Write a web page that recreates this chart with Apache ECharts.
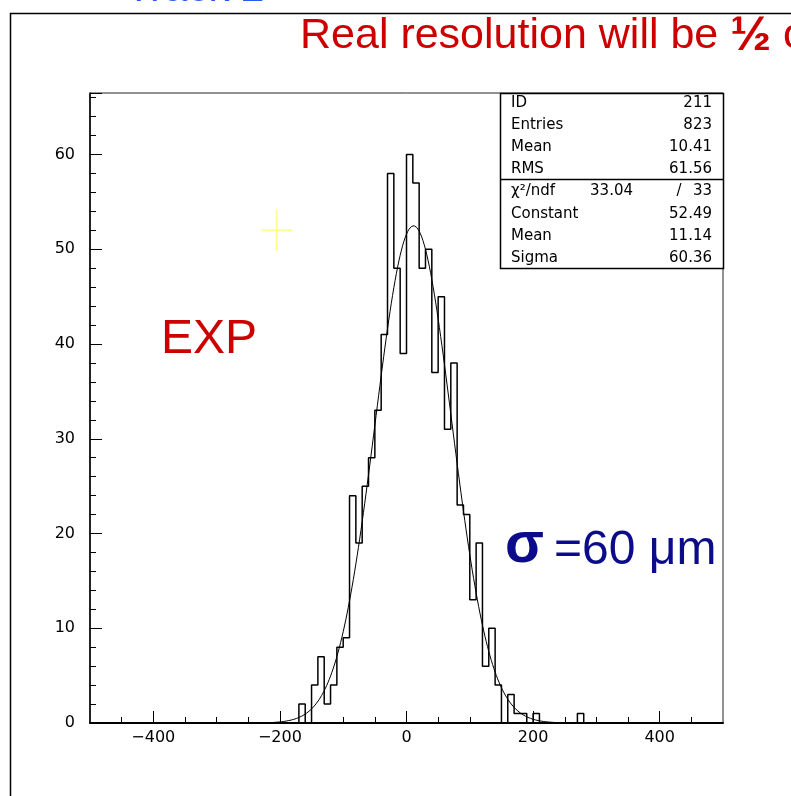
<!DOCTYPE html>
<html>
<head>
<meta charset="utf-8">
<title>Track 2 residuals</title>
<script src="https://cdn.jsdelivr.net/npm/echarts@6/dist/echarts.min.js"></script>
<style>
  html, body { margin: 0; padding: 0; background: #fff; }
  #c { width: 791px; height: 796px; }
</style>
</head>
<body>
<div id="c"></div>
<script>
// Histogram ID 211: residual distribution, 10-unit bins
const binLow = -180;
const binWidth = 10;
const counts = [
  0, 2, 0, 4, 7, 2, 4, 8, 9, 24,
  19, 25, 28, 33, 41, 58, 48, 39, 60, 57,
  48, 50, 37, 45, 31, 38, 23, 22, 13, 19,
  6, 10, 4, 0, 3, 1, 1, 0, 1, 0,
  0, 0, 0, 0, 0, 1, 0
];
const xRange = [-500, 500];
const yMax = 66.5;
const xTickValues = [-400, -200, 0, 200, 400];

// Gaussian fit result
const fitConstant = 52.49;
const fitMean = 11.14;
const fitSigma = 60.36;
const fitRange = [-210, 240];
const chi2 = '33.04';
const ndf = '33';

// Statistics box rows
const statLabels = ['ID', 'Entries', 'Mean', 'RMS'];
const statValues = ['211', '823', '10.41', '61.56'];
const fitLabels = ['Constant', 'Mean', 'Sigma'];
const fitValues = ['52.49', '11.14', '60.36'];

// Cursor cross left on the pad
const crossPoint = [[-205, 52]];

// Step outline points at bin left edges
const histPoints = [[xRange[0], 0]];
counts.forEach((c, i) => histPoints.push([binLow + i * binWidth, c]));
histPoints.push([binLow + counts.length * binWidth, 0]);
histPoints.push([xRange[1], 0]);

// Fitted Gaussian curve
const fitPoints = [];
for (let x = fitRange[0]; x <= fitRange[1]; x += 2) {
  const z = (x - fitMean) / fitSigma;
  fitPoints.push([x, fitConstant * Math.exp(-0.5 * z * z)]);
}

const labelFont = 'DejaVu Sans';
const boxFont = '15px "DejaVu Sans"';
const fmtNum = v => String(v).replace('-', '\u2212');

// Stats box geometry
const boxX = 500, boxY = 93, boxW = 223, boxH = 175, divY = 179;
const rowsTop = [103, 125, 147, 169];
const rowsBottom = [214, 236, 258];
const boxLeft = boxX + 11, boxRight = boxX + boxW - 11;

const graphics = [
  { type: 'polyline', z: 100, shape: { points: [[10.5, 796], [10.5, 13.5], [791, 13.5]] },
    style: { stroke: '#000', lineWidth: 1.5, fill: null } },
  { type: 'text', z: 100, x: 126, y: -11,
    style: { text: 'Track 2', font: '42px "Liberation Sans"', fill: '#2a5be8', verticalAlign: 'middle' } },
  { type: 'text', z: 100, x: 300, y: 36,
    style: { text: 'Real resolution will be {h|\u00bd} of this', font: '43px "Liberation Sans"', fill: '#cc0000', verticalAlign: 'middle',
      rich: { h: { font: 'bold 49px "Liberation Sans"', fill: '#cc0000' } } } },
  { type: 'text', z: 100, x: 161, y: 340,
    style: { text: 'EXP', font: '48px "Liberation Sans"', fill: '#cc0000', verticalAlign: 'middle' } },
  { type: 'text', z: 100, x: 505, y: 546,
    style: { text: '\u03c3', font: 'bold 57px "Liberation Sans"', fill: '#0c0c8a', verticalAlign: 'middle' } },
  { type: 'text', z: 100, x: 554, y: 551,
    style: { text: '=60 \u03bcm', font: '48px "Liberation Sans"', fill: '#0c0c8a', verticalAlign: 'middle' } },
  { type: 'rect', z: 100, shape: { x: boxX + 0.5, y: boxY + 0.5, width: boxW, height: boxH },
    style: { fill: '#fff', stroke: '#000', lineWidth: 1.5 } },
  { type: 'line', z: 101, shape: { x1: boxX, y1: divY + 0.5, x2: boxX + boxW, y2: divY + 0.5 },
    style: { stroke: '#000', lineWidth: 1.5 } }
];
statLabels.forEach((t, i) => {
  graphics.push({ type: 'text', z: 101, x: boxLeft, y: rowsTop[i],
    style: { text: t, font: boxFont, fill: '#000', verticalAlign: 'middle', align: 'left' } });
  graphics.push({ type: 'text', z: 101, x: boxRight, y: rowsTop[i],
    style: { text: statValues[i], font: boxFont, fill: '#000', verticalAlign: 'middle', align: 'right' } });
});
const chiY = 191;
graphics.push({ type: 'text', z: 101, x: boxLeft, y: chiY,
  style: { text: '\u03c7\u00b2/ndf', font: boxFont, fill: '#000', verticalAlign: 'middle', align: 'left' } });
graphics.push({ type: 'text', z: 101, x: 633, y: chiY,
  style: { text: chi2, font: boxFont, fill: '#000', verticalAlign: 'middle', align: 'right' } });
graphics.push({ type: 'text', z: 101, x: 679, y: chiY,
  style: { text: '/', font: boxFont, fill: '#000', verticalAlign: 'middle', align: 'center' } });
graphics.push({ type: 'text', z: 101, x: boxRight, y: chiY,
  style: { text: ndf, font: boxFont, fill: '#000', verticalAlign: 'middle', align: 'right' } });
fitLabels.forEach((t, i) => {
  graphics.push({ type: 'text', z: 101, x: boxLeft, y: rowsBottom[i],
    style: { text: t, font: boxFont, fill: '#000', verticalAlign: 'middle', align: 'left' } });
  graphics.push({ type: 'text', z: 101, x: boxRight, y: rowsBottom[i],
    style: { text: fitValues[i], font: boxFont, fill: '#000', verticalAlign: 'middle', align: 'right' } });
});

const chart = echarts.init(document.getElementById('c'), null, { renderer: 'canvas' });
chart.setOption({
  backgroundColor: '#fff',
  animation: false,
  grid: { left: 90, right: 68, top: 93, bottom: 73, show: true, borderColor: '#222', borderWidth: 1 },
  xAxis: {
    type: 'value', min: xRange[0], max: xRange[1],
    axisLine: { show: true, onZero: false, lineStyle: { color: '#000', width: 2 } },
    axisTick: { show: true, inside: true, length: 12, customValues: xTickValues, lineStyle: { color: '#000', width: 1 } },
    minorTick: { show: true, splitNumber: 4, length: 6, lineStyle: { color: '#000', width: 1 } },
    axisLabel: { customValues: xTickValues, formatter: fmtNum, fontFamily: labelFont, fontSize: 16, color: '#000', margin: 7 },
    splitLine: { show: false }, minorSplitLine: { show: false }
  },
  yAxis: {
    type: 'value', min: 0, max: yMax, interval: 10,
    axisLine: { show: true, onZero: false, lineStyle: { color: '#000', width: 1.5 } },
    axisTick: { show: true, inside: true, length: 12, lineStyle: { color: '#000', width: 1 } },
    minorTick: { show: true, splitNumber: 5, length: 6, lineStyle: { color: '#000', width: 1 } },
    axisLabel: { formatter: v => (v % 10 === 0 ? String(v) : ''), fontFamily: labelFont, fontSize: 16, color: '#000', margin: 15 },
    splitLine: { show: false }, minorSplitLine: { show: false }
  },
  series: [
    { type: 'line', data: fitPoints, showSymbol: false, symbol: 'none', z: 2,
      lineStyle: { color: '#000', width: 1 } },
    { type: 'line', data: histPoints, step: 'end', showSymbol: false, symbol: 'none', z: 3,
      lineStyle: { color: '#000', width: 1.5 } },
    { type: 'scatter', data: crossPoint, z: 4, silent: true,
      symbol: 'path://M14,0h2v42h-2zM0,20h30v2h-30z', symbolSize: [30, 42], symbolKeepAspect: false,
      itemStyle: { color: '#ffff70' } }
  ],
  graphic: graphics
});
</script>
</body>
</html>
